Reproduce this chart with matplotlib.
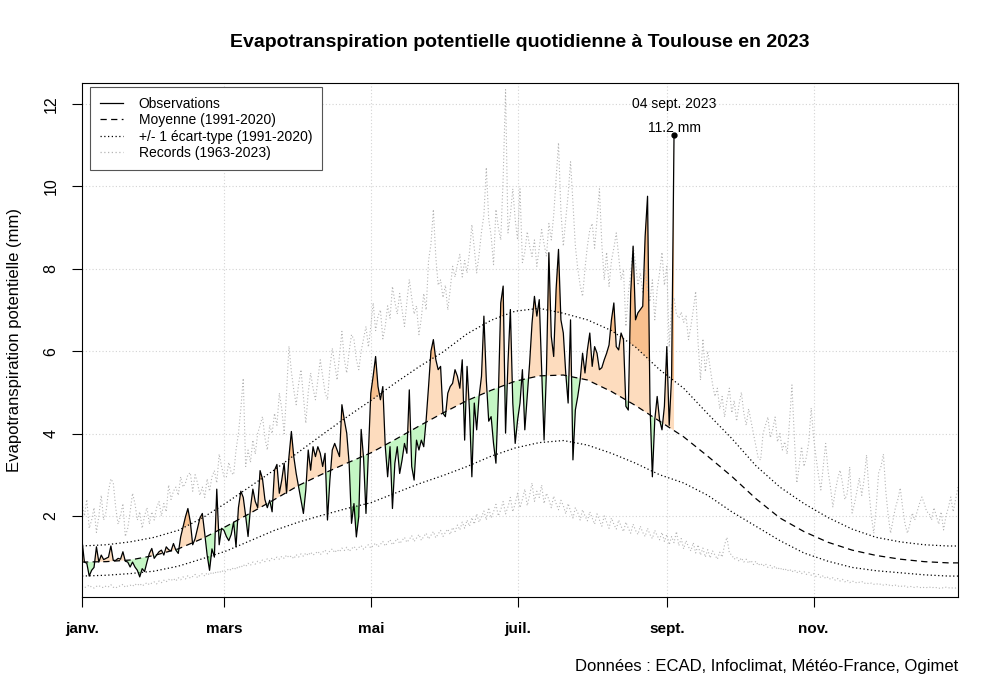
import numpy as np
import matplotlib
matplotlib.use("Agg")
import matplotlib.pyplot as plt
from matplotlib.lines import Line2D
from matplotlib.patches import Polygon

plt.rcParams["font.family"] = ["Liberation Sans", "DejaVu Sans"]

# daily potential evapotranspiration observed in Toulouse, 1 Jan -> 4 Sep 2023 (mm)
obs = [
    1.41, 0.88, 0.85, 0.54, 0.68, 0.75, 1.25, 0.88, 1.05, 0.94,
    0.97, 1.00, 1.27, 0.92, 0.92, 0.97, 0.95, 1.13, 0.90, 0.88,
    0.76, 0.88, 0.76, 0.68, 0.52, 0.72, 0.65, 0.88, 1.09, 1.21,
    0.97, 1.05, 1.13, 1.17, 1.05, 1.25, 1.18, 1.15, 1.33, 1.17,
    1.09, 1.49, 1.74, 1.98, 2.18, 1.86, 1.30, 1.45, 1.70, 1.95,
    2.06, 1.57, 1.05, 0.68, 1.20, 1.00, 2.65, 1.30, 1.70, 1.65,
    1.50, 1.40, 1.55, 1.85, 1.25, 2.20, 2.60, 2.45, 2.00, 1.50,
    2.20, 2.65, 2.35, 2.20, 3.10, 2.90, 2.40, 2.20, 2.38, 2.10,
    3.11, 3.25, 2.55, 2.87, 3.28, 2.55, 3.44, 4.05, 3.44, 3.03,
    2.71, 2.38, 2.06, 2.63, 3.60, 3.11, 3.68, 3.44, 3.68, 3.52,
    3.20, 3.52, 1.90, 2.87, 3.60, 3.76, 3.60, 3.44, 4.70, 4.33,
    4.01, 3.28, 1.82, 2.30, 1.49, 1.98, 4.10, 3.40, 2.06, 3.52,
    4.98, 5.40, 5.87, 5.14, 4.82, 5.14, 3.70, 2.95, 3.68, 2.18,
    3.28, 3.68, 3.03, 3.36, 3.76, 3.52, 5.06, 3.20, 2.87, 3.84,
    3.60, 3.84, 3.68, 4.33, 5.14, 6.00, 6.28, 5.80, 5.55, 5.63,
    4.49, 4.41, 4.98, 5.14, 5.22, 5.55, 5.39, 5.10, 5.79, 3.84,
    5.63, 4.57, 2.95, 4.74, 4.09, 4.90, 5.39, 6.85, 5.30, 4.30,
    4.41, 3.76, 3.28, 4.90, 7.17, 7.58, 4.01, 5.71, 7.01, 4.74,
    3.76, 4.33, 4.74, 5.55, 4.09, 4.90, 5.71, 6.68, 7.33, 6.85,
    7.25, 5.55, 3.84, 5.55, 8.39, 6.36, 5.87, 7.50, 8.47, 6.76,
    6.44, 5.47, 4.74, 6.76, 3.36, 4.57, 4.90, 5.30, 5.95, 5.47,
    6.03, 6.44, 5.63, 6.11, 5.95, 5.55, 5.60, 5.79, 5.95, 6.15,
    6.76, 7.17, 6.11, 6.03, 6.44, 6.28, 4.66, 4.57, 7.41, 8.55,
    6.76, 6.93, 7.01, 7.09, 8.79, 9.76, 4.74, 2.95, 4.33, 4.90,
    4.33, 4.09, 4.66, 6.11, 4.20, 5.40, 11.24,
]

# 1991-2020 climatology, read every 10 days
clim_days = [1, 11, 21, 31, 41, 51, 61, 71, 81, 91, 101, 111, 121, 131, 141,
             151, 161, 171, 181, 191, 201, 211, 221, 231, 241, 251, 261, 271,
             281, 291, 301, 311, 321, 331, 341, 351, 361, 365]
clim_mean = [0.88, 0.89, 0.93, 1.04, 1.20, 1.45, 1.75, 2.07, 2.40, 2.74, 3.02,
             3.28, 3.53, 3.85, 4.18, 4.50, 4.80, 5.05, 5.27, 5.40, 5.42, 5.30,
             5.02, 4.68, 4.30, 3.92, 3.45, 2.96, 2.42, 1.95, 1.62, 1.36, 1.17,
             1.04, 0.95, 0.89, 0.86, 0.86]
clim_hi = [1.27, 1.30, 1.37, 1.48, 1.65, 1.95, 2.32, 2.72, 3.12, 3.55, 3.98,
           4.40, 4.80, 5.22, 5.62, 5.98, 6.42, 6.75, 6.97, 7.04, 6.92, 6.76,
           6.50, 6.10, 5.55, 5.10, 4.48, 3.88, 3.22, 2.70, 2.30, 1.96, 1.68,
           1.48, 1.37, 1.30, 1.27, 1.27]
clim_lo = [0.54, 0.56, 0.60, 0.66, 0.78, 0.96, 1.15, 1.40, 1.65, 1.85, 2.02,
           2.18, 2.32, 2.55, 2.78, 2.98, 3.20, 3.45, 3.65, 3.78, 3.83, 3.72,
           3.52, 3.28, 3.00, 2.80, 2.50, 2.10, 1.75, 1.40, 1.10, 0.90, 0.75,
           0.67, 0.62, 0.57, 0.54, 0.54]

# daily records 1963-2023
rec_max = [
    2.3, 2.0, 2.4, 1.7, 1.9, 2.2, 1.6, 2.0, 2.5, 1.9,
    2.1, 2.6, 2.9, 2.8, 2.2, 1.8, 2.0, 2.3, 1.5, 1.7,
    2.1, 2.55, 2.3, 1.9, 2.1, 1.7, 2.0, 2.2, 1.8, 2.1,
    1.9, 2.2, 2.35, 2.0, 2.3, 2.1, 2.75, 2.4, 2.6, 2.7,
    2.5, 2.95, 2.7, 2.8, 3.0, 3.05, 2.6, 3.0, 2.8, 2.5,
    2.7, 2.45, 2.9, 2.6, 2.95, 3.1, 2.8, 3.5, 3.2, 2.95,
    2.95, 3.3, 3.05, 3.0, 3.6, 4.0, 4.6, 5.34, 3.2, 3.6,
    3.3, 3.84, 3.5, 4.0, 4.2, 4.41, 3.9, 3.6, 4.2, 4.0,
    4.49, 4.2, 4.98, 4.6, 4.0, 5.0, 6.12, 5.5, 5.06, 4.7,
    5.2, 5.55, 4.9, 4.25, 5.0, 5.47, 5.1, 4.82, 5.3, 5.79,
    5.4, 5.0, 4.82, 5.6, 6.07, 5.7, 5.3, 5.9, 6.48, 5.8,
    5.47, 6.0, 6.4, 6.28, 5.8, 5.55, 6.0, 6.3, 6.6, 6.1,
    6.6, 7.17, 6.5, 6.85, 7.0, 6.3, 6.6, 7.1, 6.8, 7.57,
    7.2, 6.9, 7.4, 7.0, 6.6, 7.2, 7.74, 7.3, 6.9, 7.1,
    6.4, 6.8, 7.4, 7.0, 8.2, 8.6, 9.44, 8.3, 7.6, 7.73,
    7.3, 7.6, 7.0, 7.5, 8.06, 7.8, 8.1, 8.35, 7.8, 8.2,
    7.9, 8.4, 9.07, 8.5, 7.9, 8.35, 8.9, 9.3, 10.46, 9.2,
    8.8, 8.1, 9.44, 9.0, 8.7, 10.2, 12.35, 8.87, 9.3, 9.94,
    9.2, 8.7, 9.94, 8.15, 8.4, 8.9, 8.55, 8.3, 8.7, 8.06,
    8.5, 8.95, 8.6, 8.3, 9.1, 8.7, 9.3, 10.2, 11.06, 9.4,
    8.55, 9.2, 9.8, 10.6, 9.6, 8.55, 8.0, 7.6, 7.33, 8.0,
    8.55, 8.95, 9.1, 8.5, 9.2, 9.94, 8.6, 7.73, 8.4, 7.57,
    8.2, 8.5, 8.87, 8.3, 7.73, 7.98, 6.6, 7.4, 7.9, 8.55,
    8.15, 7.6, 7.9, 7.4, 7.98, 7.5, 7.2, 7.73, 6.76, 7.5,
    7.9, 8.4, 7.6, 8.06, 6.1, 7.1, 7.3, 6.9, 6.8, 6.95,
    6.7, 6.85, 6.28, 6.6, 7.0, 7.45, 6.2, 5.3, 6.3, 5.5,
    6.0, 5.6, 5.2, 4.9, 5.1, 4.6, 4.9, 4.4, 4.8, 5.1,
    4.5, 4.8, 4.3, 4.7, 5.0, 4.5, 4.2, 4.6, 4.3, 4.0,
    3.7, 3.4, 3.36, 4.0, 4.2, 4.4, 3.9, 4.1, 4.4, 3.8,
    4.0, 3.6, 3.8, 3.5, 4.3, 5.18, 3.9, 2.8, 3.2, 3.68,
    3.2, 3.43, 3.8, 4.62, 3.9, 3.43, 3.0, 2.63, 3.2, 3.76,
    3.1, 2.7, 2.22, 2.6, 2.9, 3.11, 2.8, 2.4, 2.55, 3.19,
    2.07, 2.3, 2.6, 2.92, 2.5, 2.9, 3.48, 2.6, 2.0, 1.58,
    2.2, 3.04, 3.2, 3.5, 2.6, 2.0, 1.58, 1.9, 2.2, 2.4,
    2.68, 2.2, 1.8, 1.58, 1.8, 2.07, 1.9, 2.1, 2.3, 2.46,
    2.3, 2.1, 2.07, 1.9, 2.2, 2.0, 1.8, 2.1, 1.66, 2.0,
    2.2, 2.46, 2.1, 2.4, 2.7,
]
rec_min = [
    0.30, 0.26, 0.28, 0.32, 0.27, 0.25, 0.29, 0.31, 0.27, 0.26,
    0.30, 0.28, 0.33, 0.27, 0.25, 0.29, 0.30, 0.34, 0.27, 0.30,
    0.32, 0.29, 0.35, 0.31, 0.36, 0.30, 0.34, 0.38, 0.33, 0.37,
    0.40, 0.35, 0.42, 0.38, 0.44, 0.40, 0.46, 0.43, 0.48, 0.42,
    0.50, 0.45, 0.52, 0.47, 0.55, 0.49, 0.53, 0.58, 0.50, 0.56,
    0.60, 0.54, 0.62, 0.57, 0.64, 0.59, 0.66, 0.61, 0.68, 0.63,
    0.66, 0.72, 0.68, 0.75, 0.70, 0.78, 0.74, 0.82, 0.77, 0.85,
    0.80, 0.88, 0.83, 0.90, 0.86, 0.93, 0.89, 0.96, 0.91, 0.98,
    0.94, 1.00, 0.95, 1.02, 0.97, 1.05, 0.99, 1.03, 0.96, 1.06,
    1.00, 1.08, 1.02, 1.10, 1.04, 1.12, 1.05, 1.09, 1.14, 1.06,
    1.12, 1.17, 1.08, 1.15, 1.20, 1.11, 1.18, 1.13, 1.22, 1.16,
    1.24, 1.14, 1.20, 1.26, 1.18, 1.23, 1.28, 1.19, 1.25, 1.30,
    1.22, 1.28, 1.34, 1.25, 1.31, 1.38, 1.27, 1.35, 1.42, 1.30,
    1.37, 1.45, 1.33, 1.40, 1.48, 1.36, 1.43, 1.52, 1.38, 1.46,
    1.55, 1.41, 1.50, 1.58, 1.44, 1.53, 1.62, 1.47, 1.56, 1.65,
    1.50, 1.60, 1.68, 1.55, 1.72, 1.62, 1.78, 1.66, 1.85, 1.70,
    1.90, 1.75, 1.96, 1.80, 2.05, 1.85, 1.98, 2.12, 1.90, 2.20,
    1.95, 2.10, 2.28, 2.00, 2.15, 2.35, 2.05, 2.22, 2.45, 2.10,
    2.30, 2.55, 2.20, 2.40, 2.65, 2.25, 2.50, 2.80, 2.35, 2.60,
    2.45, 2.75, 2.30, 2.55, 2.40, 2.20, 2.48, 2.30, 2.15, 2.38,
    2.25, 2.05, 2.30, 2.12, 1.95, 2.20, 2.08, 1.90, 2.15, 2.00,
    1.88, 2.10, 1.95, 1.80, 2.05, 1.90, 1.75, 2.00, 1.85, 1.70,
    1.95, 1.80, 1.68, 1.90, 1.75, 1.62, 1.85, 1.70, 1.58, 1.80,
    1.65, 1.55, 1.75, 1.60, 1.50, 1.70, 1.55, 1.45, 1.65, 1.52,
    1.42, 1.60, 1.38, 1.55, 1.30, 1.50, 1.35, 1.62, 1.28, 1.45,
    1.20, 1.40, 1.25, 1.15, 1.35, 1.10, 1.30, 1.05, 1.22, 1.00,
    1.18, 0.98, 1.15, 1.05, 0.95, 1.12, 1.00, 1.30, 1.48, 1.10,
    1.05, 0.95, 1.00, 0.90, 0.98, 0.88, 0.95, 0.85, 0.92, 0.82,
    0.90, 0.80, 0.85, 0.78, 0.84, 0.75, 0.80, 0.72, 0.78, 0.70,
    0.75, 0.68, 0.73, 0.66, 0.71, 0.64, 0.69, 0.62, 0.67, 0.60,
    0.65, 0.58, 0.63, 0.56, 0.60, 0.53, 0.58, 0.50, 0.55, 0.48,
    0.52, 0.46, 0.50, 0.44, 0.48, 0.42, 0.46, 0.40, 0.44, 0.38,
    0.42, 0.40, 0.37, 0.39, 0.41, 0.36, 0.38, 0.35, 0.37, 0.34,
    0.36, 0.33, 0.35, 0.32, 0.34, 0.31, 0.33, 0.30, 0.32, 0.29,
    0.31, 0.28, 0.30, 0.27, 0.29, 0.28, 0.26, 0.28, 0.27, 0.25,
    0.27, 0.26, 0.28, 0.25, 0.27, 0.26, 0.24, 0.26, 0.25, 0.27,
    0.26, 0.24, 0.26, 0.25, 0.27,
]

month_days = [1, 60, 121, 182, 244, 305]
month_labels = ["janv.", "mars", "mai", "juil.", "sept.", "nov."]
max_label = "04 sept. 2023"

ORANGE = "#FDDCBE"
ORANGE_DARK = "#F8C08E"
GREEN = "#C4F6C4"
GREEN_DARK = "#8EE08E"
GREY = "#B4B4B4"
DOT = (0, (1, 2))
DASH = (0, (5, 3.5))


def clip_region(ax, xs, ys, above):
    # polygon covering the part of the plot above (or below) a curve
    edge = 30 if above else -30
    pts = [(xs[0], edge)] + list(zip(xs, ys)) + [(xs[-1], edge)]
    return Polygon(pts, closed=True, transform=ax.transData)


fig = plt.figure(figsize=(10, 6.99), dpi=100)
ax = fig.add_axes([0.082, 0.1464, 0.876, 0.7349])
ax.set_xlim(1, 365)
ax.set_ylim(0.04, 12.51)

# grid
for d in month_days[1:]:
    ax.axvline(d, color="#D3D3D3", lw=0.8, ls=DOT, zorder=0)
for v in range(2, 13, 2):
    ax.axhline(v, color="#D3D3D3", lw=0.8, ls=DOT, zorder=0)

days = np.arange(1, len(obs) + 1)

# anomaly shading: light between mean and obs, darker beyond +/- 1 sd
f = ax.fill_between(days, obs, -30, color=ORANGE, lw=0, zorder=1)
f.set_clip_path(clip_region(ax, clim_days, clim_mean, True))
f = ax.fill_between(days, obs, 30, color=GREEN, lw=0, zorder=1)
f.set_clip_path(clip_region(ax, clim_days, clim_mean, False))
f = ax.fill_between(days, obs, -30, color=ORANGE_DARK, lw=0, zorder=1.5)
f.set_clip_path(clip_region(ax, clim_days, clim_hi, True))
f = ax.fill_between(days, obs, 30, color=GREEN_DARK, lw=0, zorder=1.5)
f.set_clip_path(clip_region(ax, clim_days, clim_lo, False))

ax.plot(np.arange(1, len(rec_max) + 1), rec_max, color=GREY, lw=0.8, ls=DOT, zorder=2)
ax.plot(np.arange(1, len(rec_min) + 1), rec_min, color=GREY, lw=0.8, ls=DOT, zorder=2)
ax.plot(clim_days, clim_hi, color="black", lw=0.9, ls=DOT, zorder=3)
ax.plot(clim_days, clim_lo, color="black", lw=0.9, ls=DOT, zorder=3)
ax.plot(clim_days, clim_mean, color="black", lw=0.9, ls=DASH, zorder=3)
ax.plot(days, obs, color="black", lw=0.9, zorder=4)

# highlight the last (maximum) value
ax.plot(days[-1], obs[-1], "o", color="black", ms=3.5, zorder=5)
ax.annotate(f"{obs[-1]:.1f} mm", xy=(days[-1], obs[-1]), xytext=(0, 5.2),
            textcoords="offset points", ha="center", va="center", fontsize=10)
ax.annotate(max_label, xy=(days[-1], obs[-1]), xytext=(0, 22.5),
            textcoords="offset points", ha="center", va="center", fontsize=10)

ax.set_xticks(month_days)
ax.set_xticklabels(month_labels, fontsize=11, fontweight="bold")
ax.set_yticks(range(2, 13, 2))
ax.set_yticklabels([str(v) for v in range(2, 13, 2)], fontsize=11.5, rotation=90,
                   va="center")
ax.tick_params(axis="x", length=7, width=0.8, pad=11)
ax.tick_params(axis="y", length=7, width=0.8, pad=10)
for s in ax.spines.values():
    s.set_linewidth(0.8)

handles = [
    Line2D([], [], color="black", lw=0.9),
    Line2D([], [], color="black", lw=0.9, ls=DASH),
    Line2D([], [], color="black", lw=0.9, ls=DOT),
    Line2D([], [], color=GREY, lw=0.9, ls=DOT),
]
labels = ["Observations", "Moyenne (1991-2020)", "+/- 1 écart-type (1991-2020)",
          "Records (1963-2023)"]
leg = ax.legend(handles, labels, loc="upper left", bbox_to_anchor=(0.009, 0.992),
                borderaxespad=0, fontsize=10, frameon=True, fancybox=False,
                edgecolor="#555555", framealpha=1, handlelength=1.7,
                handletextpad=1.1, labelspacing=0.16, borderpad=0.72)
leg.get_frame().set_linewidth(0.8)

fig.text(0.52, 0.9385, "Evapotranspiration potentielle quotidienne à Toulouse en 2023",
         ha="center", va="center", fontsize=14, fontweight="bold")
fig.text(0.015, 0.5136, "Evapotranspiration potentielle (mm)", rotation=90,
         ha="center", va="center", fontsize=12)
fig.text(0.958, 0.0458, "Données : ECAD, Infoclimat, Météo-France, Ogimet",
         ha="right", va="center", fontsize=12)

fig.savefig("out.png", dpi=100, facecolor="white")
